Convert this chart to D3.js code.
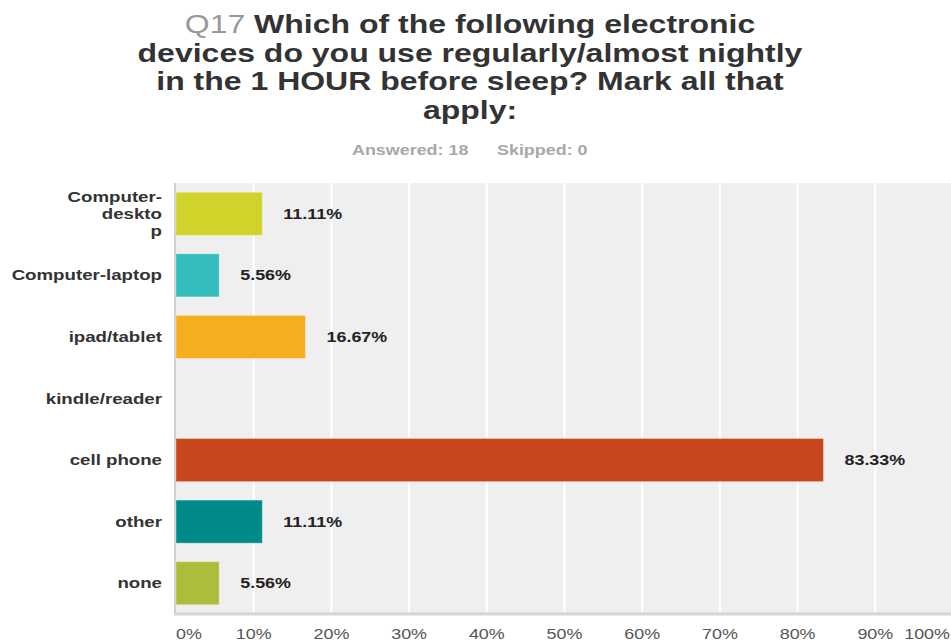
<!DOCTYPE html>
<html>
<head>
<meta charset="utf-8">
<script src="https://cdn.jsdelivr.net/npm/d3@7/dist/d3.min.js"></script>
<style>
  body { margin: 0; background: #fff; }
  svg { display: block; font-family: Arial, "Liberation Sans", sans-serif; }
</style>
</head>
<body>
<svg width="951" height="643"></svg>
<script>
// data
var categories = ["Computer-desktop", "Computer-laptop", "ipad/tablet", "kindle/reader", "cell phone", "other", "none"]
var labelLines = [["Computer-", "deskto", "p"], ["Computer-laptop"], ["ipad/tablet"], ["kindle/reader"], ["cell phone"], ["other"], ["none"]]
var values = [11.11, 5.56, 16.67, 0, 83.33, 11.11, 5.56]
var colors = ["#d0d32a", "#33bdbd", "#f5ae1f", "#999999", "#c7461c", "#008b8a", "#abbd3b"]
var xTicks = [0, 10, 20, 30, 40, 50, 60, 70, 80, 90, 100]
var titleLines = ["Which of the following electronic", "devices do you use regularly/almost nightly", "in the 1 HOUR before sleep? Mark all that", "apply:"]

function main() {
	var svg = d3.select("svg")
	var W = 951, H = 643
	var stretch = 1.28   // the source picture is widened horizontally

	var plot = {left: 176, top: 183, bottom: 614}

	var x = d3.scaleLinear().domain([0, 100]).range([plot.left, plot.left + 777])
	var y = d3.scaleBand().domain(categories).range([plot.top, plot.bottom])
		.paddingInner(0.3).paddingOuter(0.15)

	// title
	var cx = 470
	titleLines.forEach(function (line, i) {
		var t = svg.append("text")
			.attr("transform", "translate(" + cx + "," + (33 + i * 28.5) + ") scale(" + stretch + ",1)")
			.attr("text-anchor", "middle")
			.attr("font-size", 25)
			.attr("font-weight", "bold")
			.attr("fill", "#333")
		if (i == 0) {
			t.append("tspan").attr("fill", "#999").attr("font-weight", "normal").text("Q17 ")
		}
		t.append("tspan").text(line)
	})

	svg.append("text")
		.attr("transform", "translate(352,155) scale(" + stretch + ",1)")
		.attr("font-size", 14).attr("font-weight", "bold").attr("fill", "#a8a8a8")
		.text("Answered: 18")
	svg.append("text")
		.attr("transform", "translate(497,155) scale(" + stretch + ",1)")
		.attr("font-size", 14).attr("font-weight", "bold").attr("fill", "#a8a8a8")
		.text("Skipped: 0")

	// plot background
	svg.append("rect")
		.attr("x", plot.left).attr("y", plot.top)
		.attr("width", W - plot.left).attr("height", plot.bottom - plot.top)
		.attr("fill", "#efefef")

	// grid
	svg.selectAll(".grid")
		.data(xTicks.filter(function (d) { return d > 0 }))
		.enter().append("line")
		.attr("class", "grid")
		.attr("x1", function (d) { return x(d) }).attr("x2", function (d) { return x(d) })
		.attr("y1", plot.top).attr("y2", plot.bottom)
		.attr("stroke", "#fff").attr("stroke-width", 2)

	// axis lines
	svg.append("line")
		.attr("x1", plot.left - 1).attr("x2", plot.left - 1)
		.attr("y1", plot.top).attr("y2", plot.bottom + 1)
		.attr("stroke", "#cfcfcf").attr("stroke-width", 2)
	svg.append("line")
		.attr("x1", plot.left - 2).attr("x2", W)
		.attr("y1", plot.bottom).attr("y2", plot.bottom)
		.attr("stroke", "#d6d6d6").attr("stroke-width", 3)

	// bars
	svg.selectAll(".bar")
		.data(values)
		.enter().append("rect")
		.attr("class", "bar")
		.attr("x", x(0))
		.attr("y", function (d, i) { return y(categories[i]) })
		.attr("width", function (d) { return x(d) - x(0) })
		.attr("height", y.bandwidth())
		.attr("fill", function (d, i) { return colors[i] })
		.attr("stroke", "rgba(255,255,255,0.35)")
		.attr("stroke-width", 1)
		.style("display", function (d) { return d > 0 ? null : "none" })

	// value labels
	svg.selectAll(".val")
		.data(values)
		.enter().append("text")
		.attr("class", "val")
		.attr("transform", function (d, i) {
			return "translate(" + (x(d) + 21) + "," + (y(categories[i]) + y.bandwidth() / 2 + 5) + ") scale(" + stretch + ",1)"
		})
		.attr("font-size", 14).attr("font-weight", "bold").attr("fill", "#222")
		.text(function (d) { return d > 0 ? d.toFixed(2) + "%" : "" })

	// category labels
	categories.forEach(function (c, i) {
		var lines = labelLines[i]
		var mid = y(c) + y.bandwidth() / 2
		lines.forEach(function (line, j) {
			svg.append("text")
				.attr("transform", "translate(162," + (mid + 5 + (j - (lines.length - 1) / 2) * 17) + ") scale(" + stretch + ",1)")
				.attr("text-anchor", "end")
				.attr("font-size", 14.6).attr("font-weight", "bold").attr("fill", "#333")
				.text(line)
		})
	})

	// x tick labels
	svg.selectAll(".tick")
		.data(xTicks)
		.enter().append("text")
		.attr("class", "tick")
		.attr("transform", function (d) {
			var px = d == 0 ? x(d) : (d == 100 ? W - 1 : x(d))
			return "translate(" + px + ",639) scale(" + stretch + ",1)"
		})
		.attr("text-anchor", function (d) { return d == 0 ? "start" : (d == 100 ? "end" : "middle") })
		.attr("font-size", 14).attr("fill", "#555")
		.text(function (d) { return d + "%" })
}

main()
</script>
</body>
</html>
